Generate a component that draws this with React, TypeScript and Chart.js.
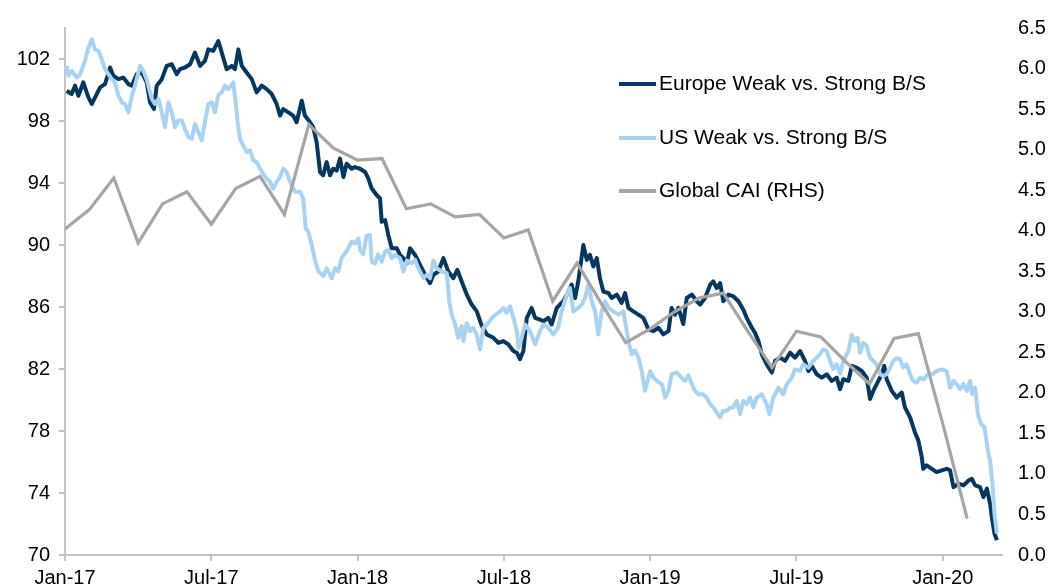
import React, { useEffect, useRef } from 'react';
import { Chart, registerables } from 'chart.js';

Chart.register(...registerables);

// x values are months since 1 Jan 2017
const xTickValues = [0, 6, 12, 18, 24, 30, 36];
const xTickLabels = ['Jan-17', 'Jul-17', 'Jan-18', 'Jul-18', 'Jan-19', 'Jul-19', 'Jan-20'];
const leftTickValues = [70, 74, 78, 82, 86, 90, 94, 98, 102];
const rightTickValues = [0, 0.5, 1, 1.5, 2, 2.5, 3, 3.5, 4, 4.5, 5, 5.5, 6, 6.5];

const euroMonths = [
  0.07, 0.27, 0.41, 0.55, 0.75, 0.96, 1.10, 1.30, 1.44, 1.64,
  1.85, 1.98, 2.19, 2.39, 2.60, 2.74, 2.94, 3.15, 3.35, 3.49,
  3.65, 3.76, 3.97, 4.17, 4.38, 4.58, 4.72, 4.92, 5.13, 5.33,
  5.54, 5.74, 5.88, 6.08, 6.29, 6.43, 6.63, 6.84, 6.97, 7.11,
  7.25, 7.45, 7.66, 7.86, 8.07, 8.27, 8.48, 8.68, 8.82, 8.95,
  9.16, 9.36, 9.50, 9.71, 9.84, 10.05, 10.18, 10.32, 10.46, 10.59,
  10.73, 10.87, 11.00, 11.14, 11.28, 11.42, 11.55, 11.76, 11.89, 12.10,
  12.31, 12.44, 12.58, 12.79, 12.92, 12.99, 13.13, 13.26, 13.40, 13.61,
  13.74, 13.88, 14.02, 14.15, 14.36, 14.56, 14.77, 14.97, 15.11, 15.31,
  15.52, 15.72, 15.93, 16.09, 16.27, 16.48, 16.68, 16.89, 17.09, 17.30,
  17.57, 17.77, 17.98, 18.18, 18.39, 18.53, 18.66, 18.80, 18.94, 19.14,
  19.28, 19.48, 19.62, 19.82, 19.96, 20.17, 20.30, 20.44, 20.65, 20.78,
  20.92, 21.05, 21.26, 21.40, 21.53, 21.67, 21.81, 21.94, 22.08, 22.29,
  22.42, 22.63, 22.83, 22.97, 23.11, 23.31, 23.52, 23.72, 23.93, 24.13,
  24.34, 24.54, 24.75, 24.88, 25.02, 25.16, 25.36, 25.50, 25.71, 25.91,
  26.05, 26.25, 26.46, 26.59, 26.73, 26.87, 27.00, 27.21, 27.41, 27.62,
  27.82, 27.96, 28.17, 28.30, 28.44, 28.58, 28.78, 28.99, 29.12, 29.33,
  29.53, 29.74, 29.94, 30.15, 30.35, 30.49, 30.63, 30.83, 31.04, 31.24,
  31.45, 31.65, 31.79, 31.92, 32.13, 32.27, 32.47, 32.68, 32.88, 33.02,
  33.15, 33.29, 33.50, 33.60, 33.70, 33.91, 34.11, 34.32, 34.45, 34.66,
  34.86, 35.00, 35.14, 35.20, 35.34, 35.55, 35.75, 35.96, 36.17, 36.30,
  36.44, 36.65, 36.85, 37.06, 37.19, 37.33, 37.53, 37.67, 37.81, 37.94,
  38.01, 38.12, 38.22,
];

const euroValues = [
  99.95, 99.74, 100.28, 99.63, 100.49, 99.52, 99.1, 99.74, 100.17, 100.38,
  101.45, 100.92, 100.7, 100.8, 100.38, 100.28, 101.02, 101.13, 100.49, 99.2,
  98.77, 100.28, 100.7, 101.56, 101.66, 101.02, 101.35, 101.45, 101.66, 102.41,
  101.56, 101.88, 102.62, 102.52, 103.16, 102.41, 101.34, 101.56, 101.34, 102.62,
  101.56, 101.13, 100.7, 99.85, 100.28, 100.06, 99.74, 99.1, 98.35, 98.77,
  98.56, 98.35, 97.92, 99.31, 98.35, 97.92, 97.6, 96.64, 94.71, 94.5,
  95.35, 94.5, 94.92, 94.8, 95.57, 94.39, 95.24, 94.92, 95.03, 94.92,
  94.71, 94.28, 93.64, 93.21, 93.0, 91.5, 91.6, 90.65, 89.79, 89.79,
  89.36, 89.15, 88.82, 89.79, 89.36, 88.72, 88.08, 87.54, 88.08, 88.29,
  89.15, 88.29, 87.86, 88.4, 87.65, 86.8, 86.16, 85.72, 84.8, 84.23,
  84.01, 83.69, 83.8, 83.59, 83.16, 83.05, 82.63, 83.16, 85.3, 85.94,
  85.3, 85.19, 85.08, 85.3, 84.87, 85.94, 86.16, 86.37, 87.0, 87.44,
  86.58, 87.65, 90.0, 89.04, 89.36, 88.61, 89.15, 87.86, 87.0, 86.9,
  86.58, 86.8, 86.26, 86.9, 85.94, 85.72, 85.51, 85.3, 84.55, 84.44,
  84.66, 84.23, 84.44, 85.94, 85.51, 85.94, 84.9, 86.58, 86.8, 86.37,
  86.16, 86.58, 87.44, 87.65, 87.22, 87.54, 86.37, 86.8, 86.69, 86.37,
  85.83, 85.3, 84.66, 84.33, 83.8, 82.95, 82.3, 81.77, 82.52, 82.73,
  82.52, 83.05, 82.73, 83.16, 82.52, 81.87, 82.2, 81.66, 81.44, 81.66,
  81.23, 81.44, 80.7, 81.34, 81.23, 82.2, 82.09, 81.87, 81.44, 80.06,
  80.59, 81.02, 81.66, 82.2, 81.34, 80.59, 80.16, 80.48, 79.52, 78.88,
  77.91, 77.38, 76.31, 75.56, 75.78, 75.56, 75.35, 75.46, 75.56, 75.46,
  74.38, 74.6, 74.49, 74.81, 74.92, 74.49, 74.38, 73.74, 74.28, 73.32,
  72.46, 71.39, 70.96,
];

const usMonths = [
  0.07, 0.14, 0.27, 0.48, 0.62, 0.82, 0.96, 1.10, 1.23, 1.37,
  1.51, 1.64, 1.78, 1.92, 2.05, 2.19, 2.33, 2.46, 2.60, 2.74,
  2.87, 3.08, 3.21, 3.35, 3.56, 3.69, 3.83, 3.97, 4.10, 4.24,
  4.38, 4.51, 4.65, 4.79, 4.92, 5.06, 5.20, 5.33, 5.47, 5.61,
  5.74, 5.88, 6.02, 6.15, 6.29, 6.43, 6.56, 6.70, 6.90, 7.00,
  7.08, 7.18, 7.31, 7.45, 7.59, 7.72, 7.86, 8.00, 8.13, 8.27,
  8.41, 8.54, 8.68, 8.82, 8.95, 9.09, 9.23, 9.43, 9.64, 9.77,
  9.87, 9.98, 10.12, 10.25, 10.39, 10.60, 10.73, 10.94, 11.07, 11.21,
  11.35, 11.55, 11.76, 11.89, 12.03, 12.10, 12.23, 12.37, 12.51, 12.58,
  12.71, 12.85, 12.99, 13.13, 13.26, 13.40, 13.53, 13.74, 13.88, 14.02,
  14.22, 14.36, 14.49, 14.70, 14.84, 14.97, 15.11, 15.25, 15.45, 15.66,
  15.76, 15.86, 16.00, 16.13, 16.27, 16.34, 16.48, 16.61, 16.75, 16.89,
  17.02, 17.16, 17.36, 17.57, 17.77, 17.98, 18.11, 18.25, 18.39, 18.53,
  18.60, 18.73, 18.87, 19.07, 19.28, 19.48, 19.62, 19.82, 20.03, 20.23,
  20.37, 20.58, 20.71, 20.85, 21.05, 21.19, 21.33, 21.46, 21.60, 21.74,
  21.87, 22.01, 22.15, 22.29, 22.49, 22.70, 22.90, 23.11, 23.24, 23.38,
  23.52, 23.65, 23.79, 24.00, 24.13, 24.27, 24.48, 24.61, 24.75, 24.88,
  25.09, 25.29, 25.43, 25.57, 25.71, 25.84, 25.98, 26.17, 26.32, 26.46,
  26.59, 26.73, 26.87, 27.00, 27.14, 27.28, 27.41, 27.55, 27.69, 27.82,
  27.96, 28.10, 28.23, 28.37, 28.58, 28.78, 28.89, 29.05, 29.26, 29.46,
  29.60, 29.81, 29.94, 30.15, 30.28, 30.49, 30.69, 30.83, 30.97, 31.10,
  31.24, 31.38, 31.51, 31.65, 31.79, 31.92, 32.13, 32.27, 32.40, 32.51,
  32.61, 32.74, 32.88, 33.02, 33.15, 33.29, 33.43, 33.56, 33.70, 33.84,
  33.97, 34.11, 34.25, 34.38, 34.52, 34.66, 34.79, 34.93, 35.07, 35.21,
  35.41, 35.62, 35.75, 35.96, 36.16, 36.30, 36.44, 36.57, 36.71, 36.85,
  36.99, 37.12, 37.21, 37.33, 37.44, 37.57, 37.71, 37.85, 37.94, 38.04,
  38.12, 38.22,
];

const usValues = [
  101.56, 100.92, 101.24, 100.81, 101.02, 101.88, 102.73, 103.27, 102.62, 102.52,
  101.98, 101.34, 101.02, 100.7, 100.49, 99.63, 99.2, 99.1, 98.56, 99.63,
  100.28, 101.56, 101.24, 100.7, 99.42, 99.1, 99.42, 98.56, 97.6, 99.2,
  98.56, 97.6, 98.03, 98.03, 97.49, 96.96, 96.85, 97.81, 97.28, 96.75,
  97.92, 99.1, 99.2, 98.56, 99.68, 99.85, 100.28, 100.06, 100.49, 99.2,
  97.92, 96.85, 96.42, 96.0, 96.1, 95.46, 95.35, 94.92, 94.6, 94.28,
  94.07, 93.64, 94.07, 94.39, 94.92, 94.71, 94.07, 93.43, 93.43, 93.0,
  91.07, 90.86, 90.0, 89.05, 88.3, 88.0, 88.5, 87.86, 88.5, 88.3,
  89.2, 89.6, 90.22, 90.1, 90.43, 89.69, 89.4, 90.6, 90.65, 88.93,
  88.8, 89.4, 88.93, 89.58, 89.69, 89.15, 89.36, 89.15, 88.29, 89.0,
  88.82, 89.04, 88.5, 87.86, 88.08, 87.86, 89.0, 88.5, 88.29, 88.18,
  86.37, 85.51, 84.87, 84.01, 84.76, 83.8, 84.97, 84.44, 84.66, 84.2,
  83.27, 84.66, 84.97, 85.4, 85.62, 85.94, 85.62, 86.05, 85.3, 84.44,
  83.37, 84.01, 84.87, 84.44, 83.59, 84.44, 84.87, 84.66, 84.23, 84.66,
  85.72, 86.8, 87.22, 85.72, 85.94, 86.16, 86.58, 87.44, 86.37, 85.72,
  84.23, 85.72, 86.37, 85.94, 85.72, 85.51, 85.72, 83.8, 82.95, 83.2,
  82.73, 81.9, 80.59, 81.87, 81.44, 81.23, 81.02, 80.16, 80.6, 81.66,
  81.77, 81.44, 81.23, 81.6, 81.02, 80.59, 80.37, 80.37, 80.16, 79.74,
  79.52, 79.2, 78.88, 79.31, 79.31, 79.52, 79.52, 79.95, 79.09, 79.95,
  79.74, 80.16, 79.52, 80.16, 80.37, 79.74, 79.09, 80.16, 80.8, 80.37,
  81.02, 81.44, 81.98, 81.87, 82.3, 82.09, 82.52, 82.73, 82.95, 83.27,
  83.16, 82.52, 82.0, 82.3, 81.7, 82.5, 83.16, 84.2, 83.8, 84.01,
  83.05, 83.69, 83.48, 82.73, 82.52, 82.3, 81.66, 81.55, 81.66, 82.09,
  82.52, 82.7, 82.63, 82.09, 82.3, 81.66, 81.23, 81.12, 81.44, 81.34,
  81.66, 81.7, 81.87, 81.98, 81.87, 80.8, 81.23, 81.02, 80.7, 81.02,
  80.59, 81.23, 80.37, 80.8, 79.09, 78.45, 78.24, 76.74, 76.1, 74.6,
  72.67, 71.39,
];

const caiMonths = [
  0, 1, 2, 3, 4, 5, 6, 7, 8, 9,
  10, 11, 12, 13, 14, 15, 16, 17, 18, 19,
  20, 21, 22, 23, 24, 25, 26, 27, 28, 29,
  30, 31, 32, 33, 34, 35, 36, 37,
];

const caiValues = [
  4.02, 4.26, 4.65, 3.85, 4.33, 4.48, 4.08, 4.52, 4.67, 4.20,
  5.31, 5.02, 4.87, 4.89, 4.27, 4.33, 4.17, 4.20, 3.91, 4.01,
  3.13, 3.60, 3.10, 2.62, 2.79, 3.00, 3.17, 3.23, 2.76, 2.31,
  2.76, 2.69, 2.39, 2.11, 2.67, 2.73, 1.62, 0.45,
];

const NAVY = '#07365F';
const LIGHT = '#A9D2F1';
const GREY = '#A5A5A5';
const AXIS = '#C4C4C4';
const FONT = "'Liberation Sans', Arial, sans-serif";

const legendPlugin = {
  id: 'insideLegend',
  afterDraw(chart: any) {
    const ctx = chart.ctx;
    const rows = [84, 138, 191];
    ctx.save();
    ctx.font = `21px ${FONT}`;
    ctx.textBaseline = 'middle';
    ctx.textAlign = 'left';
    chart.data.datasets.forEach((ds: any, i: number) => {
      const y = rows[i];
      ctx.strokeStyle = ds.borderColor;
      ctx.lineWidth = 4;
      ctx.beginPath();
      ctx.moveTo(619, y);
      ctx.lineTo(656, y);
      ctx.stroke();
      ctx.fillStyle = '#000';
      ctx.fillText(ds.label, 659, y);
    });
    ctx.restore();
  },
};

const setTicks = (values: number[]) => (axis: any) => {
  axis.ticks = values.map((v) => ({ value: v }));
};

export default function App() {
  const ref = useRef<HTMLCanvasElement | null>(null);

  useEffect(() => {
    if (!ref.current) return;
    const tickFont = { family: FONT, size: 20 };
    const chart = new Chart(ref.current, {
      type: 'line',
      data: {
        datasets: [
          {
            label: 'Europe Weak vs. Strong B/S',
            data: euroMonths.map((m, i) => ({ x: m, y: euroValues[i] })),
            borderColor: NAVY,
            borderWidth: 4,
            pointRadius: 0,
            borderJoinStyle: 'round',
            yAxisID: 'y',
            order: 2,
          },
          {
            label: 'US Weak vs. Strong B/S',
            data: usMonths.map((m, i) => ({ x: m, y: usValues[i] })),
            borderColor: LIGHT,
            borderWidth: 4,
            pointRadius: 0,
            borderJoinStyle: 'round',
            yAxisID: 'y',
            order: 1,
          },
          {
            label: 'Global CAI (RHS)',
            data: caiMonths.map((m, i) => ({ x: m, y: caiValues[i] })),
            borderColor: GREY,
            borderWidth: 3.2,
            pointRadius: 0,
            yAxisID: 'y2',
            order: 0,
          },
        ],
      } as any,
      options: {
        animation: false,
        responsive: false,
        layout: { padding: { top: 26, left: 0, right: 0, bottom: 0 }, autoPadding: false } as any,
        plugins: { legend: { display: false }, tooltip: { enabled: false } },
        scales: {
          x: {
            type: 'linear',
            min: 0,
            max: 38.43,
            grid: { drawOnChartArea: false, drawTicks: true, tickLength: 6, color: AXIS, lineWidth: 2 },
            border: { display: true, color: AXIS, width: 2 },
            afterBuildTicks: setTicks(xTickValues),
            ticks: {
              autoSkip: false,
              maxRotation: 0,
              padding: 5,
              color: '#000',
              font: tickFont,
              callback: (v: any) => xTickLabels[xTickValues.indexOf(Number(v))] ?? '',
            },
            afterFit: (s: any) => { s.height = 31; },
          },
          y: {
            type: 'linear',
            position: 'left',
            min: 70,
            max: 104,
            grid: { drawOnChartArea: false, drawTicks: true, tickLength: 6, color: AXIS, lineWidth: 2 },
            border: { display: true, color: AXIS, width: 2 },
            afterBuildTicks: setTicks(leftTickValues),
            ticks: { autoSkip: false, padding: 9, color: '#000', font: tickFont },
            afterFit: (s: any) => { s.width = 65; },
          },
          y2: {
            type: 'linear',
            position: 'right',
            min: 0,
            max: 6.5,
            grid: { display: false, drawTicks: false },
            border: { display: false },
            afterBuildTicks: setTicks(rightTickValues),
            ticks: {
              autoSkip: false,
              padding: 16,
              color: '#000',
              font: tickFont,
              callback: (v: any) => Number(v).toFixed(1),
            },
            afterFit: (s: any) => { s.width = 47; },
          },
        },
      } as any,
      plugins: [legendPlugin],
    });
    return () => chart.destroy();
  }, []);

  return (
    <div style={{ position: 'fixed', left: 0, top: 0, width: 1049, height: 586, background: '#fff' }}>
      <canvas ref={ref} width={1049} height={586} style={{ display: 'block' }} />
    </div>
  );
}
